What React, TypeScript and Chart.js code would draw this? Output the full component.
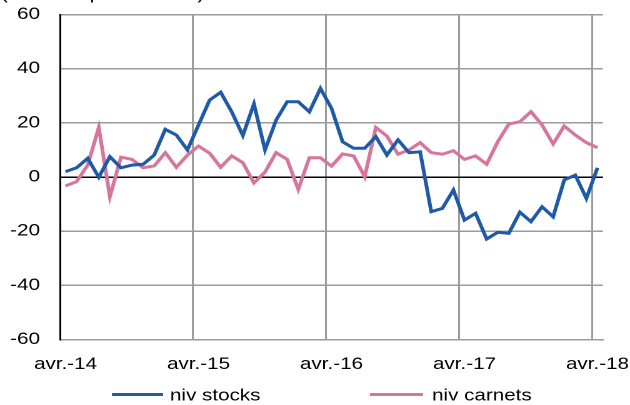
import React, { useEffect, useRef } from 'react';
import { Chart, registerables } from 'chart.js';

Chart.register(...registerables);

// ---------- data ----------
const monthNames = ['avr.', 'mai', 'juin', 'juil.', 'août', 'sept.', 'oct.', 'nov.', 'déc.', 'janv.', 'févr.', 'mars'];
const startYear = 14;
const monthCount = 49; // avr.-14 .. avr.-18

const categories: string[] = [];
for (let i = 0; i < monthCount; i++) {
  const yr = startYear + Math.floor((i + 3) / 12);
  categories.push(`${monthNames[i % 12]}-${yr}`);
}

const nivStocks = [
  2, 3.4, 6.9, -0.1, 7.5, 3.4, 4.4, 4.7, 8.1, 17.6, 15.5, 10,
  19.2, 28.4, 31.3, 24, 15.3, 27, 10, 21, 27.8, 27.8, 24.1, 32.7,
  25.4, 13, 10.6, 10.6, 14.9, 8.1, 13.7, 9, 9.3, -12.8, -11.6, -4.8,
  -15.9, -13.4, -22.9, -20.4, -20.8, -13, -16.5, -11, -14.7, -1.1, 0.7, -7.9,
  3.4,
];

const nivCarnets = [
  -3.3, -1.7, 4.4, 18.3, -7.3, 7.3, 6.5, 3.4, 4.1, 9, 3.6, 8.1,
  11.4, 8.8, 3.6, 7.8, 5.3, -2.2, 1.8, 9, 6.5, -4.6, 7.1, 7.1,
  4, 8.5, 7.8, 0.1, 18.3, 15.1, 8.4, 10, 12.7, 9, 8.4, 9.7,
  6.5, 7.8, 4.7, 13, 19.6, 20.4, 24.1, 19.2, 12.2, 18.8, 15.5, 12.7,
  10.8,
];

const yTickValues = [-60, -40, -20, 0, 20, 40, 60];
const seriesLabels = ['niv stocks', 'niv carnets'];
const titleText = "(solde d'opinion en %)";

// ---------- styles ----------
const FONT = "'Liberation Sans', Arial, sans-serif";
const FONT_SIZE = 16.5;
const BLUE = '#1F5AA8';
const PINK = '#D6769B';
const GRID = '#9B9B9B';
const SX = 1.25; // horizontal stretch of the drawing
const W = 630;
const H = 405;
const CW = W / SX;

const overlayPlugin = {
  id: 'overlay',
  afterDraw(chart: any) {
    const ctx = chart.ctx as CanvasRenderingContext2D;
    ctx.save();
    ctx.font = `${FONT_SIZE}px ${FONT}`;
    ctx.fillStyle = '#000';
    ctx.textAlign = 'left';
    ctx.textBaseline = 'alphabetic';
    ctx.fillText(titleText, 0.8, -1);

    const items = [
      { x1: 112 / SX, x2: 163 / SX, tx: 170 / SX, color: BLUE, label: chart.data.datasets[0].label },
      { x1: 370 / SX, x2: 423 / SX, tx: 432 / SX, color: PINK, label: chart.data.datasets[1].label },
    ];
    const ly = 394.5;
    items.forEach((it) => {
      ctx.strokeStyle = it.color;
      ctx.lineWidth = 3;
      ctx.beginPath();
      ctx.moveTo(it.x1, ly);
      ctx.lineTo(it.x2, ly);
      ctx.stroke();
      ctx.fillStyle = '#000';
      ctx.textBaseline = 'middle';
      ctx.fillText(it.label, it.tx, ly + 1.5);
    });
    ctx.restore();
  },
};

export default function App() {
  const ref = useRef<HTMLCanvasElement | null>(null);

  useEffect(() => {
    if (!ref.current) return;
    document.body.style.margin = '0';
    const chart = new Chart(ref.current, {
      type: 'line',
      data: {
        labels: categories,
        datasets: [
          {
            label: seriesLabels[0],
            data: nivStocks,
            borderColor: BLUE,
            backgroundColor: BLUE,
            borderWidth: 3,
            pointRadius: 0,
            tension: 0,
            fill: false,
          },
          {
            label: seriesLabels[1],
            data: nivCarnets,
            borderColor: PINK,
            backgroundColor: PINK,
            borderWidth: 3,
            pointRadius: 0,
            tension: 0,
            fill: false,
          },
        ],
      },
      options: {
        responsive: false,
        animation: false,
        devicePixelRatio: 2,
        layout: {
          padding: { left: 0, right: CW - 603 / SX, top: 14.5, bottom: 0 },
        },
        plugins: {
          legend: { display: false },
          tooltip: { enabled: false },
          title: { display: false },
        },
        font: { family: FONT, size: FONT_SIZE },
        scales: {
          x: {
            type: 'category',
            offset: true,
            grid: {
              offset: true,
              drawTicks: false,
              lineWidth: 1.5,
              color: (ctx: any) => {
                const i = ctx.index;
                return i > 0 && i < monthCount && i % 12 === 0 ? GRID : 'rgba(0,0,0,0)';
              },
            },
            border: { display: true, color: GRID, width: 1.5 },
            ticks: {
              autoSkip: false,
              maxRotation: 0,
              minRotation: 0,
              padding: 15,
              color: '#000',
              font: { family: FONT, size: FONT_SIZE },
              callback: (_v: any, i: number) => (i % 12 === 0 ? categories[i] : ''),
            },
            afterFit: (s: any) => {
              s.height = H - 339.5;
              s.paddingLeft = 0;
              s.paddingRight = 0;
            },
          },
          y: {
            min: yTickValues[0],
            max: yTickValues[yTickValues.length - 1],
            grid: {
              drawTicks: false,
              lineWidth: 1.5,
              color: (ctx: any) => (ctx.tick && ctx.tick.value === 0 ? '#000' : GRID),
            },
            border: { display: true, color: '#000', width: 1.5 },
            ticks: {
              stepSize: 20,
              padding: 16,
              color: '#000',
              font: { family: FONT, size: FONT_SIZE },
              callback: (v: any) => String(v),
            },
            afterFit: (s: any) => {
              s.width = 60 / SX;
              s.paddingTop = 0;
              s.paddingBottom = 0;
            },
          },
        },
      },
      plugins: [overlayPlugin],
    });
    return () => chart.destroy();
  }, []);

  return (
    <div style={{ position: 'absolute', left: 0, top: 0, width: W, height: H, overflow: 'hidden', background: '#fff' }}>
      <canvas ref={ref} width={CW} height={H} style={{ width: `${W}px`, height: `${H}px`, display: 'block' }} />
    </div>
  );
}
